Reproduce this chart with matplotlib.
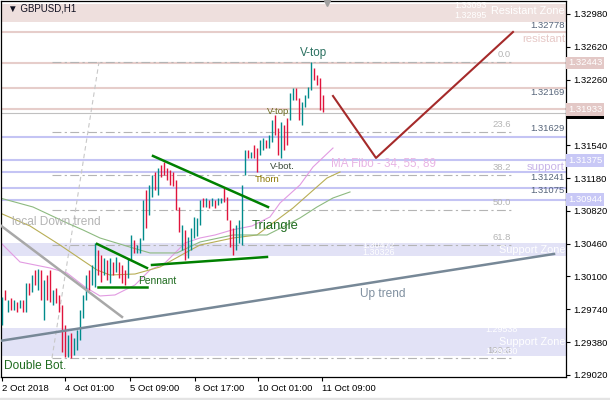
import numpy as np
import matplotlib.pyplot as plt
import matplotlib.transforms as mtransforms
from matplotlib.patches import Rectangle

plt.rcParams['font.family'] = ['Liberation Sans', 'DejaVu Sans']

# GBPUSD H1 bars (high, low, u=up / d=down)
bar_high = [
    1.29875, 1.29952, 1.29842, 1.29864, 1.29842, 1.29820, 1.29842, 1.29842, 1.30028, 1.30028,
    1.30116, 1.30171, 1.30182, 1.30171, 1.30061, 1.30116, 1.30171, 1.29952, 1.29974, 1.29897,
    1.29787, 1.29568, 1.29458, 1.29480, 1.29425, 1.29513, 1.29732, 1.29897, 1.30116, 1.30171,
    1.30226, 1.30467, 1.30390, 1.30336, 1.30303, 1.30281, 1.30303, 1.30259, 1.30314, 1.30259,
    1.30226, 1.30171, 1.30303, 1.30555, 1.30500, 1.30445, 1.30522, 1.30939, 1.31049, 1.31104,
    1.31213, 1.31246, 1.31290, 1.31323, 1.31356, 1.31290, 1.31268, 1.31246, 1.31158, 1.30862,
    1.30665, 1.30610, 1.30533, 1.30632, 1.30753, 1.30742, 1.30939, 1.30961, 1.30961, 1.30939,
    1.30961, 1.30939, 1.30961, 1.30961, 1.31071, 1.30972, 1.30720, 1.30632, 1.30665, 1.30720,
    1.31104, 1.31487, 1.31487, 1.31466, 1.31542, 1.31509, 1.31597, 1.31619, 1.31597, 1.31652,
    1.31817, 1.31871, 1.31729, 1.31795, 1.31762, 1.31839, 1.32113, 1.32168, 1.32168, 1.32058,
    1.32014, 1.32091, 1.32179, 1.32453, 1.32387, 1.32310, 1.32277, 1.32091,
]
bar_low = [
    1.29568, 1.29842, 1.29710, 1.29732, 1.29732, 1.29710, 1.29754, 1.29710, 1.29710, 1.29897,
    1.29930, 1.30007, 1.29952, 1.29842, 1.29623, 1.29842, 1.29820, 1.29787, 1.29809, 1.29710,
    1.29272, 1.29217, 1.29217, 1.29206, 1.29239, 1.29293, 1.29403, 1.29645, 1.29842, 1.29952,
    1.30007, 1.29985, 1.30116, 1.30039, 1.30116, 1.30061, 1.30028, 1.30116, 1.30149, 1.30083,
    1.30028, 1.30007, 1.30083, 1.30281, 1.30358, 1.30358, 1.30358, 1.30500, 1.30632, 1.30774,
    1.30972, 1.31049, 1.30994, 1.31191, 1.31213, 1.31158, 1.31104, 1.31093, 1.30829, 1.30588,
    1.30390, 1.30281, 1.30303, 1.30390, 1.30522, 1.30544, 1.30665, 1.30862, 1.30862, 1.30851,
    1.30873, 1.30851, 1.30884, 1.30906, 1.30917, 1.30720, 1.30423, 1.30336, 1.30390, 1.30467,
    1.30445, 1.31213, 1.31400, 1.31400, 1.31400, 1.31246, 1.31433, 1.31487, 1.31509, 1.31509,
    1.31575, 1.31652, 1.31433, 1.31400, 1.31487, 1.31542, 1.31817, 1.32036, 1.32036, 1.31817,
    1.31762, 1.31959, 1.32058, 1.32146, 1.32255, 1.32201, 1.31926, 1.31904,
]
bar_dir = ("ududududud" "udududdudd" "dduduuuuud" "uuddududud" "dduuduuudu"
           "ududdddddd" "uduuuuudud" "uduudddduu" "uududduudu" "uddudduudd"
           "uuuudddd")
bid_price = 1.31896

# moving averages (34, 55, 89) as drawn, (bar index, price)
ma34_x = [-0.67, 6, 16, 21.67, 27.67, 32.67, 37.67, 44.33, 49.33, 54.33, 61, 66, 71, 76.67,
          83.33, 89.33, 92.67, 99.33, 103.67, 110.33]
ma34_y = [1.30478, 1.30259, 1.30193, 1.30138, 1.29985, 1.29886, 1.29897, 1.30007, 1.30171,
          1.30248, 1.30467, 1.30522, 1.30555, 1.30610, 1.30654, 1.30753, 1.30906, 1.31104,
          1.31301, 1.31509]
ma55_x = [-0.67, 9.33, 19.33, 27.67, 31.67, 36, 44.33, 52.67, 61.67, 66, 77, 85, 91.67, 97,
          102.67, 108.33, 112.67]
ma55_y = [1.30796, 1.30654, 1.30445, 1.30259, 1.30171, 1.30116, 1.30127, 1.30204, 1.30369,
          1.30445, 1.30522, 1.30555, 1.30720, 1.30851, 1.31016, 1.31180, 1.31246]
ma89_x = [-0.67, 10.33, 21.67, 27, 32.67, 43.67, 49.33, 58.33, 66, 77, 88.33, 93.67, 99.33,
          105, 110.33, 116]
ma89_y = [1.30961, 1.30862, 1.30687, 1.30610, 1.30522, 1.30412, 1.30358, 1.30358, 1.30478,
          1.30555, 1.30555, 1.30643, 1.30742, 1.30862, 1.30961, 1.31027]

# horizontal levels
resist_zone = (1.32895, 1.33093)
support_zone_1 = (1.30326, 1.30472)
support_zone_2 = (1.29230, 1.29538)
pink_levels = [1.32778, 1.32443, 1.32169, 1.31933]
blue_levels = [1.31629, 1.31375, 1.31241, 1.31075, 1.30944]

# fibo retracement
fib_high = 1.32453
fib_low = 1.29206
fib_pct = [0.0, 23.6, 38.2, 50.0, 61.8, 100.0]
fib_x = (16.67, 32.33, 169.67)  # anchor low, anchor high, right end

# trend lines ((x0, x1), (y0, y1))
up_trend = ((-0.67, 184), (1.29393, 1.30347))
down_trend = ((-0.67, 40), (1.30665, 1.29656))
pennant_top = ((31.67, 48.33), (1.30457, 1.30193))
pennant_bot = ((32, 48.33), (1.29985, 1.29985))
triangle_top = ((50.33, 88.67), (1.31422, 1.30862))
triangle_bot = ((50, 88.33), (1.30226, 1.30314))
forecast_x = [110.33, 124.67, 170.33]
forecast_y = [1.32080, 1.31400, 1.32782]

# axes labels
ytick_vals = [1.29020 + 0.0036 * k for k in range(12)]
xtick_pos = [0, 21, 42.67, 64.33, 85.33, 106.67]
xtick_labels = ['2 Oct 2018', '4 Oct 01:00', '5 Oct 09:00', '8 Oct 17:00',
                '10 Oct 01:00', '11 Oct 09:00']

PINK_LINE = '#E6CDCA'
PINK_ZONE = '#EEDFDD'
BLUE_LINE = '#C4C4F4'
BLUE_ZONE = '#E2E2F6'
FIB = '#B4B4B4'
LBL = '#56657A'

fig = plt.figure(figsize=(6.1, 4.0), dpi=100)
fig.patches.append(Rectangle((0, 0), 1, 2 / 400, transform=fig.transFigure,
                             color='#E4E4E4', zorder=0))
ax = fig.add_axes([1 / 610, 23 / 400, 565 / 610, 376 / 400])
ax.set_xlim(-0.333, 188)
ax.set_ylim(1.28997, 1.33122)
right = mtransforms.blended_transform_factory(ax.transAxes, ax.transData)

# zones
for lo, hi in [resist_zone, support_zone_1, support_zone_2]:
    col = PINK_ZONE if lo > 1.32 else BLUE_ZONE
    ax.axhspan(lo, hi, color=col, lw=0, zorder=0)

for p in pink_levels:
    ax.axhline(p, color=PINK_LINE, lw=1.5, zorder=1)
for p in blue_levels:
    ax.axhline(p, color=BLUE_LINE, lw=1.5, zorder=1)
ax.axhline(bid_price, color='#C0C0C0', lw=0.8, zorder=1)

# fibo
for pct in fib_pct:
    lvl = fib_high - (fib_high - fib_low) * pct / 100
    ax.plot([fib_x[0], fib_x[2]], [lvl, lvl], color=FIB, lw=0.8,
            ls=(0, (8, 3, 2, 3)), zorder=1)
    ax.text(fib_x[2], lvl + 0.0003, f'{pct:.1f}', color=FIB, fontsize=6.8,
            ha='right', va='bottom', zorder=3)
ax.plot(fib_x[:2], [fib_low, fib_high], color='#C8C8C8', lw=0.8, ls=(0, (4, 3)), zorder=1)

# moving averages
ax.plot(ma34_x, ma34_y, color='#E29BE2', lw=0.8, zorder=2)
ax.plot(ma55_x, ma55_y, color='#B8AE55', lw=0.8, zorder=2)
ax.plot(ma89_x, ma89_y, color='#8DBA80', lw=0.8, zorder=2)

# bars
hi = np.array(bar_high)
lo = np.array(bar_low)
xs = np.arange(len(hi))
up = np.array([c == 'u' for c in bar_dir])
ax.vlines(xs[up], lo[up], hi[up], color='#008B8B', lw=1.0, zorder=4)
ax.vlines(xs[~up], lo[~up], hi[~up], color='#E0143C', lw=1.0, zorder=4)

# trend lines
ax.plot(*up_trend, color='#778897', lw=1.8, zorder=5)
ax.plot(*down_trend, color='#A8A8A8', lw=1.8, zorder=5)
for seg in [pennant_top, pennant_bot, triangle_top, triangle_bot]:
    ax.plot(*seg, color='#008000', lw=1.8, zorder=5)
ax.plot(forecast_x, forecast_y, color='#A52A2A', lw=1.5, zorder=5)

# chart notes
ax.text(3.33, 1.30698, 'local Down trend', color='#B4B4B4', fontsize=8.6, va='center')
ax.text(45.33, 1.30050, 'Pennant', color='#1E6B1E', fontsize=7.4, va='center', zorder=6)
ax.text(83.33, 1.30654, 'Triangle', color='#1E6B1E', fontsize=9.4, va='center', zorder=6)
ax.text(0.67, 1.29118, 'Double Bot.', color='#1E6B1E', fontsize=8.6, va='center')
ax.text(119.33, 1.29908, 'Up trend', color='#8090A0', fontsize=8.6, va='center')
ax.text(99.33, 1.32552, 'V-top', color='#2A7060', fontsize=8.4, va='center', zorder=6)
ax.text(88.33, 1.31915, 'V-top', color='#6B6B20', fontsize=6.8, va='center', zorder=6)
ax.text(89.33, 1.31301, 'V-bot.', color='#3A4A3A', fontsize=6.8, va='center', zorder=6)
ax.text(84.33, 1.31169, 'Thorn', color='#8B7500', fontsize=6.8, va='center', zorder=6)
ax.text(109.67, 1.31334, 'MA Fibo - 34; 55; 89', color='#E8B4E4', fontsize=8.4, va='center')
ax.text(187.67, 1.32705, 'resistant', color='#E6C8C6', fontsize=8.2, ha='right', va='center')
ax.text(187.67, 1.31301, 'support', color='#C8B4E8', fontsize=8.2, ha='right', va='center')

# zone captions
ax.text(187.67, 1.33012, 'Resistant Zone', color='white', fontsize=7.8, ha='right', va='center')
ax.text(161.67, 1.33078, f'{resist_zone[1]:.5f}', color='white', fontsize=6.4, ha='right', va='center')
ax.text(161.67, 1.32968, f'{resist_zone[0]:.5f}', color='white', fontsize=6.4, ha='right', va='center')
ax.text(187.67, 1.30390, 'Support Zone', color='white', fontsize=7.8, ha='right', va='center')
ax.text(131, 1.30445, f'{support_zone_1[1]:.5f}', color='white', fontsize=6.4, ha='right', va='center')
ax.text(131, 1.30358, f'{support_zone_1[0]:.5f}', color='white', fontsize=6.4, ha='right', va='center')
ax.text(187.67, 1.29381, 'Support Zone', color='white', fontsize=7.8, ha='right', va='center')
ax.text(172, 1.29513, f'{support_zone_2[1]:.5f}', color='white', fontsize=6.4, ha='right', va='center')
ax.text(172, 1.29272, f'{support_zone_2[0]:.5f}', color='white', fontsize=6.4, ha='right', va='center')

# level captions
for p, dy in [(1.32778, 0.00070), (1.32169, -0.00050), (1.31629, 0.00090),
              (1.31241, -0.00050), (1.31075, -0.00030)]:
    ax.text(187.67, p + dy, f'{p:.5f}', color=LBL, fontsize=6.8, ha='right', va='center')

# header
ax.text(0.012, 0.979, '\u25bc GBPUSD,H1', transform=ax.transAxes, fontsize=7,
        color='#101020', va='center', zorder=7)
ax.plot([108.33], [1.33100], marker='v', ms=5, color='#A0A0A0', clip_on=False, zorder=7)

# axes styling
ax.yaxis.tick_right()
ax.set_yticks(ytick_vals)
# the 1.31900 label sits under the price boxes
ax.set_yticklabels(['' if abs(v - 1.319) < 1e-6 else f'{v:.5f}' for v in ytick_vals])
ax.set_xticks(xtick_pos)
ax.set_xticklabels(xtick_labels)
for t in ax.get_xticklabels():
    t.set_ha('left')
ax.tick_params(axis='both', labelsize=6.8, length=3, width=0.8, pad=2, colors='black')
for s in ax.spines.values():
    s.set_linewidth(0.9)

# price boxes on the right scale
boxes = [(1.32443, '#E3C8C6', 'white'), (bid_price, 'black', 'white'),
         (1.31933, '#E3C8C6', 'white'), (1.31375, '#C8C8F6', 'white'),
         (1.30944, '#C8C8F6', 'white')]
for p, bg, fg in boxes:
    ax.text(1.004, p, f'{p:.5f}', transform=right, fontsize=6.8, color=fg,
            ha='left', va='center', clip_on=False, zorder=8,
            bbox=dict(boxstyle='square,pad=0.2', fc=bg, ec='none'))

fig.savefig('out.png', dpi=100)
